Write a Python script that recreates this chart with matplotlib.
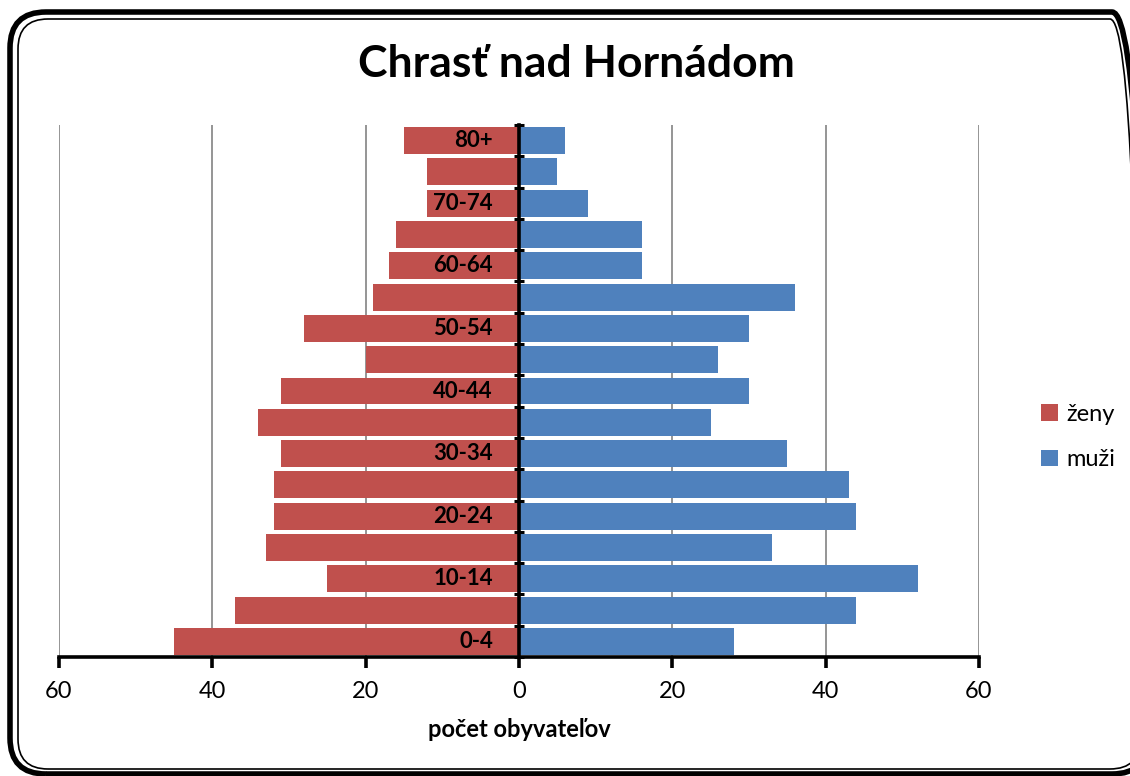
import matplotlib
matplotlib.use("Agg")
import matplotlib.pyplot as plt
from matplotlib.patches import FancyBboxPatch
from matplotlib.transforms import IdentityTransform
from matplotlib.ticker import FuncFormatter, FixedLocator
import numpy as np

plt.rcParams['font.family'] = ['Lato', 'DejaVu Sans']

age_groups = ["0-4", "5-9", "10-14", "15-19", "20-24", "25-29", "30-34", "35-39",
              "40-44", "45-49", "50-54", "55-59", "60-64", "65-69", "70-74", "75-79", "80+"]
zeny = [45, 37, 25, 33, 32, 32, 31, 34, 31, 20, 28, 19, 17, 16, 12, 12, 15]
muzi = [28, 44, 52, 33, 44, 43, 35, 25, 30, 26, 30, 36, 16, 16, 9, 5, 6]
shown_labels = [lab if i % 2 == 0 else "" for i, lab in enumerate(age_groups)]
title = "Chrasť nad Hornádom"
xlabel = "počet obyvateľov"

W, H = 1130, 776
fig = plt.figure(figsize=(W / 100, H / 100), dpi=100)

# rounded double frame (pixel coordinates, origin bottom-left)
def px_box(x0, y0, x1, y1, lw, r):
    p = FancyBboxPatch((x0, H - y1), (x1 - x0), (y1 - y0),
                       boxstyle=f"round,pad=0,rounding_size={r}",
                       transform=IdentityTransform(), fill=False, edgecolor="black",
                       linewidth=lw)
    fig.patches.append(p)

px_box(10, 12, 1148, 774, 4.0, 36)
px_box(18, 19, 1140, 769, 1.2, 30)

ax = fig.add_axes([59 / W, 1 - 657 / H, 920 / W, 532 / H])
y = np.arange(len(age_groups))
ax.barh(y, [-v for v in zeny], height=0.86, color="#C0504D", label="ženy", zorder=2)
ax.barh(y, muzi, height=0.86, color="#4F81BD", label="muži", zorder=2)

ax.set_xlim(-60, 60)
ax.set_ylim(-0.5, len(age_groups) - 0.5)
ax.set_xticks([-60, -40, -20, 0, 20, 40, 60])
ax.xaxis.set_major_formatter(FuncFormatter(lambda v, p: f"{abs(int(v))}"))
ax.grid(axis="x", color="#8c8c8c", linewidth=1.3, zorder=0)
ax.set_axisbelow(True)

for s in ["top", "right"]:
    ax.spines[s].set_visible(False)
ax.spines["left"].set_position(("data", 0))
ax.spines["left"].set_linewidth(2.6)
ax.spines["left"].set_zorder(3)
ax.spines["bottom"].set_linewidth(2.6)

# y ticks at category boundaries
ax.yaxis.set_major_locator(FixedLocator(np.arange(-0.5, len(age_groups), 1.0)))
ax.yaxis.set_major_formatter(FuncFormatter(lambda v, p: ""))
ax.tick_params(axis="y", which="major", direction="inout", length=7, width=2.2)

# category labels next to the axis
for yi, lab in zip(y, shown_labels):
    if lab:
        ax.text(-3.4, yi, lab, ha="right", va="center", fontsize=16,
                fontweight="bold", zorder=5)

ax.tick_params(axis="x", which="major", direction="out", length=8, width=2.6,
               labelsize=17, pad=9)

ax.set_xlabel(xlabel, fontsize=17, fontweight="bold", labelpad=12)
fig.text(576 / W, 1 - 64 / H, title, fontsize=32, fontweight="bold",
         ha="center", va="center")

leg = fig.legend(loc="center left", bbox_to_anchor=(1020 / W, 1 - 437 / H),
                 frameon=False, fontsize=17, handlelength=0.7, handleheight=0.7,
                 handletextpad=0.35, labelspacing=1.05)

fig.savefig("out.png", dpi=100)
